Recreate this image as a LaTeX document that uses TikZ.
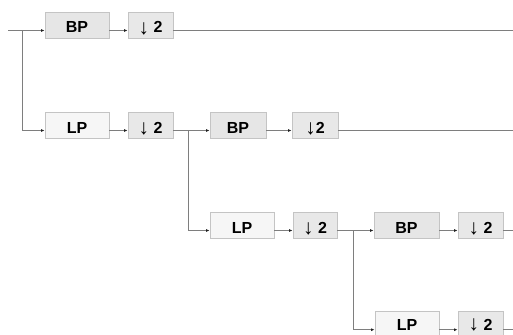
\documentclass[tikz,border=0pt]{standalone}
\usepackage{fontspec}
\setmainfont{Liberation Sans}
\usetikzlibrary{arrows.meta}
\definecolor{edgegray}{HTML}{C4C4C4}
\definecolor{linegray}{HTML}{7E7E7E}
\definecolor{tipgray}{HTML}{222222}
\definecolor{bpfill}{HTML}{E6E6E6}
\definecolor{lpfill}{HTML}{F6F6F6}
\definecolor{dnfill}{HTML}{E8E8E8}
\tikzset{
  blk/.style={draw=edgegray, line width=0.9pt, minimum height=26pt, inner sep=0pt,
    text height=15pt, text depth=0pt,
    font=\fontsize{16}{18}\selectfont\bfseries},
  bpbox/.style={blk, fill=bpfill},
  lpbox/.style={blk, fill=lpfill},
  dnbox/.style={blk, fill=dnfill},
  lastrow/.style={text height=11.5pt},
  wire/.style={draw=linegray, line width=1pt},
  conn/.style={wire, -{Latex[length=3.5pt,width=3pt,fill=tipgray,color=tipgray]}},
  lo/.style={yshift=-5pt}
}
% down-sampling label: a thin arrow followed by a bold 2
\newcommand{\dnarrow}[1]{\raisebox{#1}{\fontsize{21}{21}\selectfont\mdseries\char"2193}}
\newcommand{\dn}[1][\ ]{\dnarrow{-1.5pt}#1\textbf{2}}
\newcommand{\dnlast}{\dnarrow{0pt}\ \textbf{2}}
\begin{document}
\begin{tikzpicture}[x=1pt,y=-1pt]
\useasboundingbox (0,0) rectangle (513,334);
% row 1
\node[bpbox, minimum width=64pt] (bp1) at (77,25.5) {BP};
\node[dnbox, minimum width=45pt] (d1) at (150.5,25.5) {\dn};
% row 2
\node[lpbox, minimum width=64pt] (lp1) at (77,125.5) {LP};
\node[dnbox, minimum width=45pt] (d2) at (150.5,125.5) {\dn};
\node[bpbox, minimum width=56pt] (bp2) at (238,125.5) {BP};
\node[dnbox, minimum width=46pt] (d3) at (315,125.5) {\dn[]};
% row 3
\node[lpbox, minimum width=64pt] (lp2) at (242,225.5) {LP};
\node[dnbox, minimum width=44pt] (d4) at (315,225.5) {\dn};
\node[bpbox, minimum width=65pt] (bp3) at (406.5,225.5) {BP};
\node[dnbox, minimum width=45pt] (d5) at (480.5,225.5) {\dn};
% row 4
\node[lpbox, lastrow, minimum width=64pt] (lp3) at (407,324.7) {LP};
\node[dnbox, lastrow, minimum width=45pt] (d6) at (480.5,324.7) {\dnlast};
% free ends and branch points
\coordinate (in) at (8,30.5);
\coordinate (j1) at (22,30.5);
\coordinate (j2) at (188,130.5);
\coordinate (j3) at (353,230.5);
\coordinate (o1) at (513,30.5);
\coordinate (o2) at (513,130.5);
\coordinate (o3) at (513,230.5);
\coordinate (o4) at (513,329.7);
% connectors
\draw[conn] (in) -- ([lo]bp1.west);
\draw[conn] ([lo]bp1.east) -- ([lo]d1.west);
\draw[wire] ([lo]d1.east) -- (o1);
\draw[conn] (j1) |- ([lo]lp1.west);
\draw[conn] ([lo]lp1.east) -- ([lo]d2.west);
\draw[conn] ([lo]d2.east) -- ([lo]bp2.west);
\draw[conn] ([lo]bp2.east) -- ([lo]d3.west);
\draw[wire] ([lo]d3.east) -- (o2);
\draw[conn] (j2) |- ([lo]lp2.west);
\draw[conn] ([lo]lp2.east) -- ([lo]d4.west);
\draw[conn] ([lo]d4.east) -- ([lo]bp3.west);
\draw[conn] ([lo]bp3.east) -- ([lo]d5.west);
\draw[wire] ([lo]d5.east) -- (o3);
\draw[conn] (j3) |- ([yshift=-5pt]lp3.west);
\draw[conn] ([yshift=-5pt]lp3.east) -- ([yshift=-5pt]d6.west);
\draw[wire] ([yshift=-5pt]d6.east) -- (o4);
\end{tikzpicture}
\end{document}
